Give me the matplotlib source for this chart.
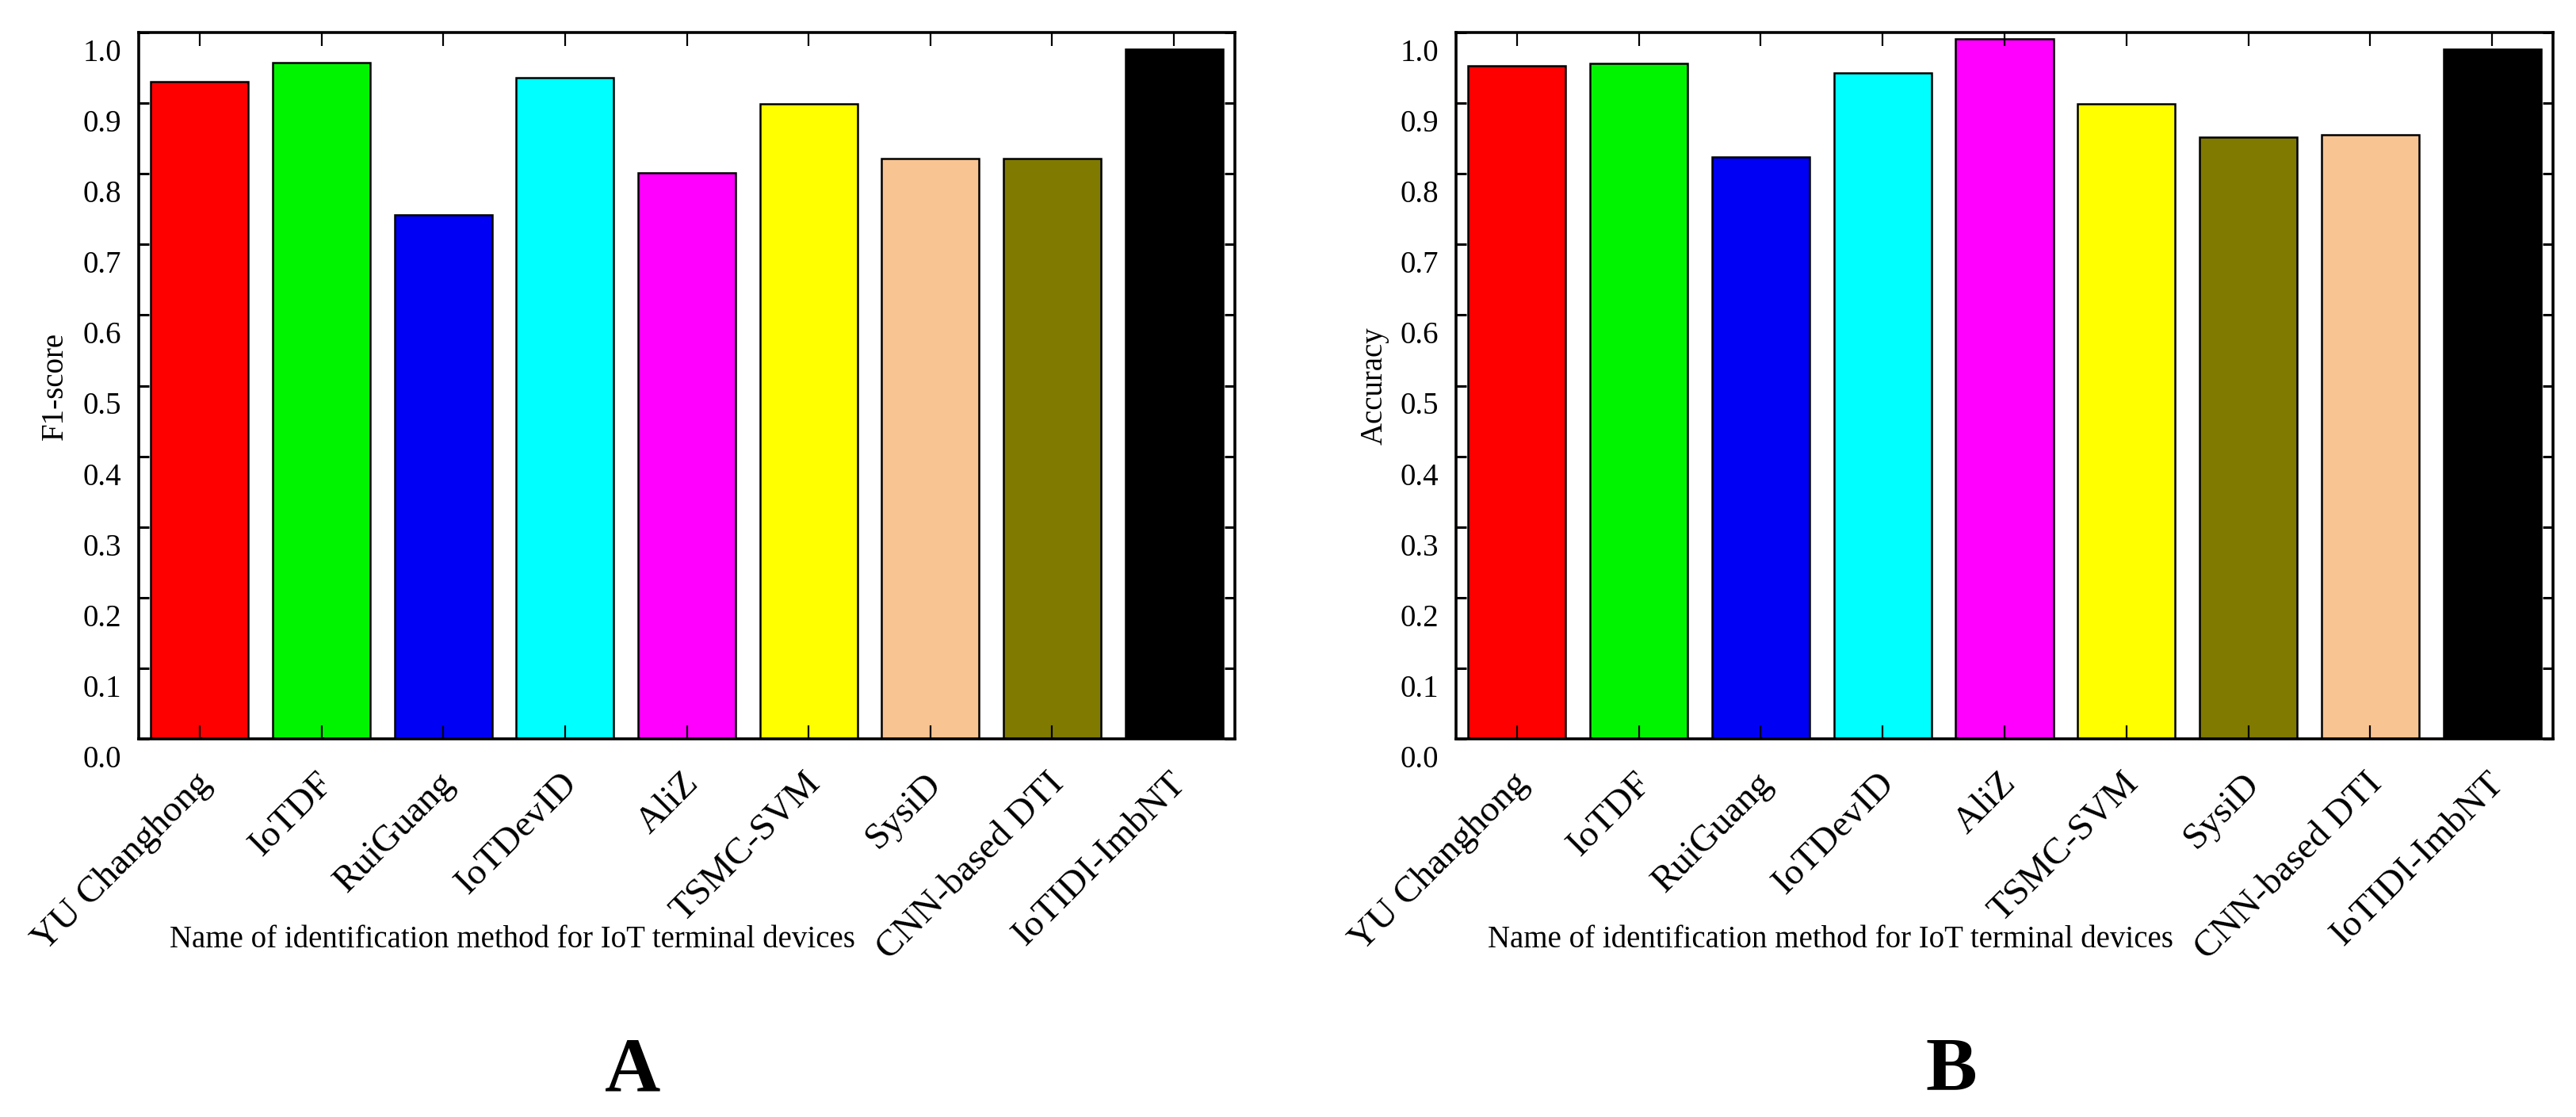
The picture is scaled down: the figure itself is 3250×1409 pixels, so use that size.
import matplotlib
matplotlib.use("Agg")
import matplotlib.pyplot as plt
import matplotlib.transforms as mtransforms
import numpy as np

plt.rcParams['font.family'] = ['Liberation Serif', 'DejaVu Serif']

methods = ["YU Changhong", "IoTDF", "RuiGuang", "IoTDevID", "AliZ",
           "TSMC-SVM", "SysiD", "CNN-based DTI", "IoTIDI-ImbNT"]
f1_scores = [0.930, 0.957, 0.742, 0.936, 0.801, 0.899, 0.822, 0.822, 0.976]
accuracy = [0.953, 0.956, 0.824, 0.943, 0.991, 0.899, 0.852, 0.855, 0.976]
colors_f1 = ["#FF0000", "#00F400", "#0000F4", "#00FFFF", "#FF00FF",
             "#FFFF00", "#F8C491", "#807A00", "#000000"]
colors_acc = ["#FF0000", "#00F400", "#0000F4", "#00FFFF", "#FF00FF",
              "#FFFF00", "#807A00", "#F8C491", "#000000"]
y_ticks = [0.0, 0.1, 0.2, 0.3, 0.4, 0.5, 0.6, 0.7, 0.8, 0.9, 1.0]
x_label = "Name of identification method for IoT terminal devices"

W, H = 3250, 1409
dpi = 100
fig = plt.figure(figsize=(W / dpi, H / dpi), dpi=dpi)


def make_panel(left_px, right_px, values, colors, ylabel, ylabel_x, letter, letter_x):
    top_px, bottom_px = 41, 932
    ax = fig.add_axes([left_px / W, (H - bottom_px) / H,
                       (right_px - left_px) / W, (bottom_px - top_px) / H])
    x = np.arange(len(methods))
    ax.bar(x, values, width=0.8, color=colors, edgecolor="black", linewidth=1.8)
    ax.set_xlim(-0.5, len(methods) - 0.5)
    ax.set_ylim(0, 1.0)
    for s in ax.spines.values():
        s.set_linewidth(2.6)
    ax.set_yticks(y_ticks)
    ax.set_yticklabels([f"{v:.1f}" for v in y_ticks])
    ax.tick_params(axis="y", direction="in", length=9.5, width=2.2,
                   left=True, right=True, labelsize=28, pad=16)
    ax.set_xticks(x)
    ax.set_xticklabels(methods, rotation=45, ha="right", va="center",
                       rotation_mode="anchor")
    ax.tick_params(axis="x", direction="in", length=12, width=1.6,
                   top=True, bottom=True, labelsize=34, pad=36)
    off_y = mtransforms.ScaledTranslation(0, -22 / dpi, fig.dpi_scale_trans)
    for lab in ax.get_yticklabels():
        lab.set_transform(lab.get_transform() + off_y)
    off_x = mtransforms.ScaledTranslation(8 / dpi, 0, fig.dpi_scale_trans)
    for lab in ax.get_xticklabels():
        lab.set_transform(lab.get_transform() + off_x)
    ax.set_ylabel(ylabel, fontsize=28)
    ax.yaxis.set_label_coords(ylabel_x, 0.5)
    ax.set_xlabel(x_label, fontsize=28)
    ax.xaxis.set_label_coords(0.341, -0.284)
    ax.xaxis.label.set_va("center")
    fig.text(letter_x / W, 1 - 1352 / H, letter, fontsize=70,
             fontweight="bold", ha="center", va="center")
    return ax


make_panel(175, 1558, f1_scores, colors_f1, "F1-score", -0.063, "A", 798)
make_panel(1837, 3221, accuracy, colors_acc, "Accuracy", -0.061, "B", 2462)

fig.savefig("out.png", dpi=dpi, facecolor="white")
